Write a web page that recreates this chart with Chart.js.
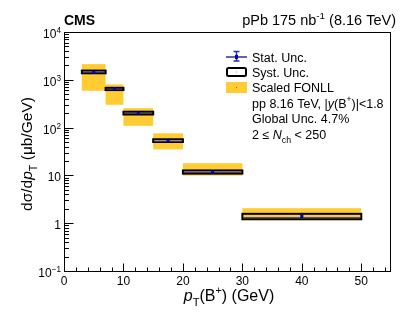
<!DOCTYPE html>
<html><head><meta charset="utf-8">
<script src="https://cdn.jsdelivr.net/npm/chart.js@4"></script>
<style>html,body{margin:0;padding:0;background:#fff}canvas{display:block}</style>
</head><body>
<canvas id="c" width="407" height="315"></canvas>
<script>
// ---- data ----
const binLow = [3, 7, 10, 15, 20, 30];
const binHigh = [7, 10, 15, 20, 30, 50];
const binCenter = [5, 8.5, 12.5, 17.5, 25, 40];
const xsecValue = [1450, 645, 200, 53, 11.7, 1.38];
const statErr = [70, 18, 5, 1.3, 0.25, 0.04];
const systLow = [1370, 610, 188, 50, 10.9, 1.21];
const systHigh = [1560, 680, 215, 57, 12.7, 1.57];
const fonllLow = [590, 300, 109, 35, 9.9, 1.16];
const fonllHigh = [2130, 800, 255, 76, 18, 2.06];
const xTickValues = [0, 10, 20, 30, 40, 50];
const xTickLabels = ['0', '10', '20', '30', '40', '50'];
const yTickValues = [0.1, 1, 10, 100, 1000, 10000];
const yTickBase = ['10', '1', '10', '10', '10', '10'];
const yTickExp = ['\u22121', '', '', '2', '3', '4'];
const legendLabels = ['Stat. Unc.', 'Syst. Unc.', 'Scaled FONLL'];

const FONT = '"Liberation Sans", Arial, Helvetica, sans-serif';
const YELLOW = '#ffcc33';
const NAVY = '#2e2ea6';
const BLUE = '#0000c0';

function fontStr(size, style) {
  return (style === 'i' ? 'italic ' : '') + (style === 'b' ? 'bold ' : '') + size + 'px ' + FONT;
}
function richLayout(ctx, segs, size) {
  let w = 0;
  const out = [];
  for (const s of segs) {
    let sz = size, dy = 0, st = s.s || 'n';
    if (st === 'sub') { sz = size * 0.7; dy = size * 0.33; st = 'n'; }
    if (st === 'sup') { sz = size * 0.68; dy = -size * 0.42; st = 'n'; }
    ctx.font = fontStr(sz, st);
    const mw = ctx.measureText(s.t).width;
    out.push({ t: s.t, font: ctx.font, dx: w, dy });
    w += mw;
  }
  return { parts: out, width: w };
}
function drawRich(ctx, segs, x, y, size, align) {
  const L = richLayout(ctx, segs, size);
  let x0 = x;
  if (align === 'center') x0 = x - L.width / 2;
  if (align === 'right') x0 = x - L.width;
  ctx.textAlign = 'left';
  ctx.textBaseline = 'alphabetic';
  for (const p of L.parts) {
    ctx.font = p.font;
    ctx.fillText(p.t, x0 + p.dx, y + p.dy);
  }
}

const boxesPlugin = {
  id: 'boxes',
  beforeDatasetsDraw(chart) {
    const ctx = chart.ctx, xs = chart.scales.x, ys = chart.scales.y;
    ctx.save();
    ctx.fillStyle = YELLOW;
    for (let i = 0; i < binLow.length; i++) {
      const x1 = xs.getPixelForValue(binLow[i]), x2 = xs.getPixelForValue(binHigh[i]);
      const y1 = ys.getPixelForValue(fonllHigh[i]), y2 = ys.getPixelForValue(fonllLow[i]);
      ctx.fillRect(x1, y1, x2 - x1, y2 - y1);
    }
    ctx.strokeStyle = NAVY;
    ctx.lineWidth = 1.5;
    for (let i = 0; i < binLow.length; i++) {
      const xc = xs.getPixelForValue(binCenter[i]);
      ctx.beginPath();
      ctx.moveTo(xc, ys.getPixelForValue(xsecValue[i] + statErr[i]));
      ctx.lineTo(xc, ys.getPixelForValue(xsecValue[i] - statErr[i]));
      ctx.stroke();
    }
    ctx.strokeStyle = '#000';
    ctx.lineWidth = 2;
    for (let i = 0; i < binLow.length; i++) {
      const x1 = xs.getPixelForValue(binLow[i]), x2 = xs.getPixelForValue(binHigh[i]);
      const y1 = ys.getPixelForValue(systHigh[i]), y2 = ys.getPixelForValue(systLow[i]);
      ctx.strokeRect(x1, y1, x2 - x1, y2 - y1);
    }
    ctx.strokeStyle = NAVY;
    ctx.globalAlpha = 0.85;
    ctx.lineWidth = 1;
    for (let i = 0; i < binLow.length; i++) {
      const x1 = xs.getPixelForValue(binLow[i]), x2 = xs.getPixelForValue(binHigh[i]);
      const yc = Math.round(ys.getPixelForValue(xsecValue[i])) + 0.5;
      ctx.beginPath(); ctx.moveTo(x1 + 1, yc); ctx.lineTo(x2 - 1, yc); ctx.stroke();
    }
    ctx.restore();
  },
  afterDraw(chart) {
    const ctx = chart.ctx, xs = chart.scales.x, ys = chart.scales.y;
    const a = chart.chartArea;
    ctx.save();
    ctx.fillStyle = '#000';
    ctx.strokeStyle = '#000';
    ctx.lineWidth = 1;
    ctx.strokeRect(Math.round(a.left) + 0.5, Math.round(a.top) + 0.5, Math.round(a.right - a.left) - 1, Math.round(a.bottom - a.top));
    const yb = Math.round(a.bottom) + 0.5;
    for (let v = 0; v <= 55; v += 2) {
      const px = Math.round(xs.getPixelForValue(v)) + 0.5;
      const major = v % 10 === 0;
      ctx.beginPath(); ctx.moveTo(px, yb); ctx.lineTo(px, yb - (major ? 8 : 4)); ctx.stroke();
    }
    const xl = Math.round(a.left) + 0.5;
    for (let d = -1; d < 4; d++) {
      for (let m = 1; m <= 9; m++) {
        const v = m * Math.pow(10, d);
        const py = Math.round(ys.getPixelForValue(v)) + 0.5;
        ctx.beginPath(); ctx.moveTo(xl, py); ctx.lineTo(xl + (m === 1 ? 9 : 4.5), py); ctx.stroke();
      }
    }
    { const py = Math.round(ys.getPixelForValue(10000)) + 0.5;
      ctx.beginPath(); ctx.moveTo(xl, py); ctx.lineTo(xl + 9, py); ctx.stroke(); }
    ctx.font = fontStr(12, 'n');
    ctx.textAlign = 'center';
    ctx.textBaseline = 'alphabetic';
    for (let i = 0; i < xTickValues.length; i++) {
      ctx.fillText(xTickLabels[i], xs.getPixelForValue(xTickValues[i]), 285);
    }
    for (let i = 0; i < yTickValues.length; i++) {
      const py = ys.getPixelForValue(yTickValues[i]);
      const segs = [{ t: yTickBase[i] }];
      if (yTickExp[i]) segs.push({ t: yTickExp[i], s: 'sup' });
      drawRich(ctx, segs, 61, py + 6, 12, 'right');
    }
    drawRich(ctx, [{ t: 'p', s: 'i' }, { t: 'T', s: 'sub' }, { t: '(B' }, { t: '+', s: 'sup' }, { t: ') (GeV)' }], 229, 301, 16, 'center');
    ctx.save();
    ctx.translate(32, 154);
    ctx.rotate(-Math.PI / 2);
    drawRich(ctx, [{ t: 'd\u03c3/d' }, { t: 'p', s: 'i' }, { t: 'T', s: 'sub' }, { t: ' (\u03bcb/GeV)' }], 0, 0, 15.5, 'center');
    ctx.restore();
    ctx.font = fontStr(14, 'b');
    ctx.textAlign = 'left';
    ctx.fillText('CMS', 64, 25);
    drawRich(ctx, [{ t: 'pPb 175 nb' }, { t: '-1', s: 'sup' }, { t: ' (8.16 TeV)' }], 396, 25, 14.5, 'right');
    ctx.strokeStyle = NAVY; ctx.lineWidth = 1.5;
    ctx.beginPath(); ctx.moveTo(226, 57); ctx.lineTo(247, 57); ctx.stroke();
    ctx.beginPath(); ctx.moveTo(236.5, 51.5); ctx.lineTo(236.5, 61); ctx.stroke();
    ctx.beginPath(); ctx.moveTo(233.5, 51.5); ctx.lineTo(239.5, 51.5); ctx.stroke();
    ctx.beginPath(); ctx.moveTo(233.5, 61); ctx.lineTo(239.5, 61); ctx.stroke();
    ctx.fillStyle = BLUE; ctx.fillRect(235, 55, 3, 4);
    ctx.strokeStyle = '#000'; ctx.lineWidth = 2;
    ctx.beginPath();
    if (ctx.roundRect) ctx.roundRect(227, 68, 19, 8, 1.5); else ctx.rect(227, 68, 19, 8);
    ctx.stroke();
    ctx.fillStyle = '#999'; ctx.fillRect(236, 71.5, 1, 1);
    ctx.fillStyle = YELLOW; ctx.fillRect(226, 82, 21, 11);
    ctx.fillStyle = '#776622'; ctx.fillRect(236, 87, 1, 1);
    ctx.fillStyle = '#000';
    const lx = 252, ls = 12.5;
    drawRich(ctx, [{ t: legendLabels[0] }], lx, 61.5, ls, 'left');
    drawRich(ctx, [{ t: legendLabels[1] }], lx, 76.5, ls, 'left');
    drawRich(ctx, [{ t: legendLabels[2] }], lx, 92, ls, 'left');
    drawRich(ctx, [{ t: 'pp 8.16 TeV, |' }, { t: 'y', s: 'i' }, { t: '(B' }, { t: '+', s: 'sup' }, { t: ')|<1.8' }], lx, 107.5, ls, 'left');
    drawRich(ctx, [{ t: 'Global Unc. 4.7%' }], lx, 123, ls, 'left');
    drawRich(ctx, [{ t: '2 \u2264 ' }, { t: 'N', s: 'i' }, { t: 'ch', s: 'sub' }, { t: ' < 250' }], lx, 139, ls, 'left');
    ctx.restore();
  }
};

new Chart(document.getElementById('c'), {
  type: 'scatter',
  data: {
    datasets: [{
      data: binCenter.map((x, i) => ({ x, y: xsecValue[i] })),
      pointStyle: 'rect',
      pointRadius: 2.2,
      backgroundColor: BLUE,
      borderColor: BLUE,
      borderWidth: 0
    }]
  },
  options: {
    responsive: false,
    devicePixelRatio: 1,
    animation: false,
    layout: { padding: { left: 64, top: 32, right: 16, bottom: 44 } },
    plugins: { legend: { display: false }, tooltip: { enabled: false } },
    scales: {
      x: { type: 'linear', min: 0, max: 55, display: false },
      y: { type: 'logarithmic', min: 0.1, max: 10000, display: false }
    }
  },
  plugins: [boxesPlugin]
});
</script>
</body></html>
